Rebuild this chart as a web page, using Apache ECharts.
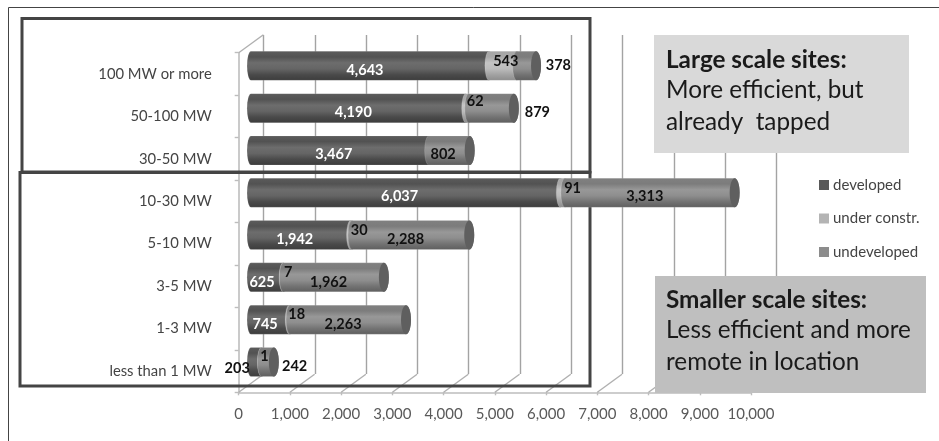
<!DOCTYPE html>
<html>
<head>
<meta charset="utf-8">
<style>html,body{margin:0;padding:0;background:#fff}#chart{width:939px;height:441px}</style>
<script src="https://cdn.jsdelivr.net/npm/echarts@6/dist/echarts.min.js"></script>
</head>
<body>
<div id="chart"></div>
<script>
// Capacity by site size (MW), stacked by development status
const categories = ['100 MW or more', '50-100 MW', '30-50 MW', '10-30 MW', '5-10 MW', '3-5 MW', '1-3 MW', 'less than 1 MW'];
const developed = [4643, 4190, 3467, 6037, 1942, 625, 745, 203];
const underConstruction = [543, 62, null, 91, 30, 7, 18, 1];
const undeveloped = [378, 879, 802, 3313, 2288, 1962, 2263, 242];
const xTicks = [0, 1000, 2000, 3000, 4000, 5000, 6000, 7000, 8000, 9000, 10000];

// Hand-placed nudges of the value labels, relative to the middle of each segment
const developedNudge = [[-5, 4], [-5, 4], [-6, 4], [-6, 4], [-6, 4], [-5, 5], [-5, 4.5], [-19, 6]];
const underNudge = [[3, -5], [8, -7], [0, 0], [10, -4], [8, -5], [5, -5], [7, -5.5], [3, -6]];
const undevelopedNudge = [[32, -1], [46, 4], [-6, 4], [-5, 4], [-5, 4], [-5, 5], [-5, 4.5], [27, 4]];

const FONT = 'Lato, "Open Sans", sans-serif';
const DEPTH_X = 24.7, DEPTH_Y = 18;     // projection of the chart's depth
const BAR_H = 29, CAP_LEFT = 4, CAP_RIGHT = 5;

const vGrad = stops => new echarts.graphic.LinearGradient(0, 0, 0, 1,
  stops.map((c, i) => ({ offset: i / (stops.length - 1), color: c })));

const fills = {
  developed: ['#5c5c5c', '#525252', '#6d6d6d', '#656565', '#4a4a4a', '#3c3c3c'],
  under: ['#a6a6a6', '#a8a8a8', '#c4c4c4', '#bcbcbc', '#a2a2a2', '#8c8c8c'],
  undeveloped: ['#808080', '#7c7c7c', '#989898', '#8e8e8e', '#737373', '#5e5e5e']
};

// Rows of [row index, segment start, segment end, value]
function segments(values, before) {
  return values.map((v, i) => {
    const start = before.reduce((sum, arr) => sum + (arr[i] || 0), 0);
    return [i, start, start + (v || 0), v];
  }).filter(r => r[3] !== null);
}

function cylinderSeries(name, values, before, stops, legendColor) {
  return {
    name,
    type: 'custom',
    xAxisIndex: 2,
    yAxisIndex: 2,
    z: 5,
    clip: false,
    itemStyle: { color: legendColor },
    encode: { x: [1, 2], y: 0 },
    data: segments(values, before),
    renderItem(params, api) {
      const row = api.value(0);
      const a = api.coord([api.value(1), row]);
      const b = api.coord([api.value(2), row]);
      const t = a[1] - BAR_H / 2, h = BAR_H;
      const path = `M${a[0]} ${t}L${b[0]} ${t}` +
        `A${CAP_RIGHT} ${h / 2} 0 0 1 ${b[0]} ${t + h}` +
        `L${a[0]} ${t + h}` +
        `A${CAP_LEFT} ${h / 2} 0 0 1 ${a[0]} ${t}Z`;
      return {
        type: 'path',
        shape: { pathData: path },
        style: { fill: vGrad(stops), stroke: 'rgba(255,255,255,0.22)', lineWidth: 0.6 }
      };
    }
  };
}

// End face of each full stack
const endCaps = {
  type: 'custom',
  xAxisIndex: 2,
  yAxisIndex: 2,
  z: 6,
  silent: true,
  clip: false,
  encode: { x: 1, y: 0 },
  data: categories.map((c, i) => [i, developed[i] + (underConstruction[i] || 0) + undeveloped[i]]),
  renderItem(params, api) {
    const c = api.coord([api.value(1), api.value(0)]);
    return {
      type: 'ellipse',
      shape: { cx: c[0], cy: c[1], rx: CAP_RIGHT, ry: BAR_H / 2 },
      style: { fill: '#5f5f5f' }
    };
  }
};

// Value labels, drawn above every cylinder
function labelSeries(values, before, nudges, colorOf) {
  return {
    type: 'custom',
    xAxisIndex: 2,
    yAxisIndex: 2,
    z: 8,
    silent: true,
    clip: false,
    encode: { x: [1, 2], y: 0 },
    data: segments(values, before),
    renderItem(params, api) {
      const row = api.value(0);
      const v = api.value(3);
      const a = api.coord([api.value(1), row]);
      const b = api.coord([api.value(2), row]);
      const n = nudges[row];
      return {
        type: 'text',
        style: {
          x: (a[0] + b[0]) / 2 + n[0],
          y: a[1] + n[1],
          text: v.toLocaleString('en-US'),
          font: 'bold 14.5px ' + FONT,
          fill: colorOf(row),
          align: 'center',
          verticalAlign: 'middle'
        }
      };
    }
  };
}

// Floor lines running back from the front ticks, plus the wall's top edge
const depthLines = {
  type: 'custom',
  xAxisIndex: 0,
  yAxisIndex: 0,
  z: 1,
  silent: true,
  clip: false,
  encode: { x: 0 },
  data: xTicks.map(v => [v]),
  renderItem(params, api) {
    const x = api.coord([api.value(0), categories[0]])[0];
    const yBottom = params.coordSys.y + params.coordSys.height;
    const line = (x0, y0) => ({
      type: 'line',
      shape: { x1: x0, y1: y0, x2: x0 + DEPTH_X, y2: y0 - DEPTH_Y },
      style: { stroke: '#b0b0b0', lineWidth: 1.4 }
    });
    const children = [line(x, yBottom)];
    if (params.dataIndex === 0) children.push(line(x, params.coordSys.y));
    return { type: 'group', children };
  }
};

const hiddenCat = gridIndex => ({ type: 'category', gridIndex, inverse: true, data: categories, show: false });

const noteText = (left, top, text, weight) => ({
  type: 'text',
  left,
  top,
  z: 7,
  style: { text, font: `${weight} 24.3px ${FONT}`, fill: '#1a1a1a', verticalAlign: 'middle' }
});

const frame = (x, y, width, height) => ({
  type: 'rect',
  z: 3,
  silent: true,
  shape: { x, y, width, height },
  style: { fill: 'none', stroke: '#444444', lineWidth: 3 }
});

const chart = echarts.init(document.getElementById('chart'), null, { renderer: 'canvas' });
chart.setOption({
  animation: false,
  backgroundColor: '#ffffff',
  grid: [
    { left: 238.7, top: 52.7, width: 512.3, height: 339.6 },   // front plane: axes and labels
    { left: 263.5, top: 35, width: 513, height: 339 },         // back wall: gridlines
    { left: 251, top: 44.7, width: 512.3, height: 338.4 }      // mid-depth plane: cylinders
  ],
  xAxis: [
    {
      type: 'value', gridIndex: 0, min: 0, max: 10000, interval: 1000,
      axisLine: { show: true, lineStyle: { color: '#bdbdbd', width: 1.6 } },
      axisTick: { show: true, length: 3, lineStyle: { color: '#bdbdbd', width: 1.4 } },
      axisLabel: { color: '#595959', fontFamily: FONT, fontSize: 15, margin: 14,
        formatter: v => v.toLocaleString('en-US') },
      splitLine: { show: false }
    },
    {
      type: 'value', gridIndex: 1, min: 0, max: 10000, interval: 1000,
      axisLine: { show: false }, axisTick: { show: false }, axisLabel: { show: false },
      splitLine: { show: true, lineStyle: { color: '#a3a3a3', width: 1.4 } }
    },
    { type: 'value', gridIndex: 2, min: 0, max: 10000, interval: 1000, show: false, splitLine: { show: false } }
  ],
  yAxis: [
    {
      type: 'category', gridIndex: 0, inverse: true, data: categories,
      axisLine: { show: true, lineStyle: { color: '#bdbdbd', width: 1.6 } },
      axisTick: { show: true, length: 4, lineStyle: { color: '#bdbdbd', width: 1.4 } },
      axisLabel: { color: '#444444', fontFamily: FONT, fontSize: 14.8, margin: 27 }
    },
    hiddenCat(1),
    hiddenCat(2)
  ],
  legend: {
    orient: 'vertical',
    left: 814,
    top: 171,
    itemWidth: 10,
    itemHeight: 10,
    itemGap: 15.5,
    icon: 'rect',
    data: ['developed', 'under constr.', 'undeveloped'],
    textStyle: { color: '#444444', fontFamily: FONT, fontSize: 15, lineHeight: 18, padding: [0, 0, 0, -1] }
  },
  series: [
    depthLines,
    cylinderSeries('developed', developed, [], fills.developed, '#595959'),
    cylinderSeries('under constr.', underConstruction, [developed], fills.under, '#b4b4b4'),
    cylinderSeries('undeveloped', undeveloped, [developed, underConstruction], fills.undeveloped, '#8c8c8c'),
    endCaps,
    labelSeries(developed, [], developedNudge, row => row === 7 ? '#111111' : '#ffffff'),
    labelSeries(underConstruction, [developed], underNudge, () => '#111111'),
    labelSeries(undeveloped, [developed, underConstruction], undevelopedNudge, () => '#111111')
  ],
  graphic: [
    // page border: top and left edges only
    { type: 'line', z: 2, silent: true, shape: { x1: 8.5, y1: 7.5, x2: 939, y2: 7.5 }, style: { stroke: '#444444', lineWidth: 1 } },
    { type: 'line', z: 2, silent: true, shape: { x1: 8.5, y1: 7.5, x2: 8.5, y2: 441 }, style: { stroke: '#444444', lineWidth: 1 } },
    frame(22, 18.5, 568, 153.5),
    frame(20, 172.5, 570, 213.5),
    { type: 'rect', z: 6, silent: true, shape: { x: 654, y: 35, width: 255, height: 118 }, style: { fill: '#d9d9d9' } },
    { type: 'rect', z: 6, silent: true, shape: { x: 655, y: 276, width: 271, height: 117 }, style: { fill: '#bfbfbf' } },
    noteText(666, 48, 'Large scale sites:', 'bold'),
    noteText(666, 78, 'More efficient, but', 'normal'),
    noteText(666, 110, 'already  tapped', 'normal'),
    noteText(666, 288, 'Smaller scale sites:', 'bold'),
    noteText(666, 318, 'Less efficient and more', 'normal'),
    noteText(666, 350, 'remote in location', 'normal')
  ]
});
</script>
</body>
</html>
